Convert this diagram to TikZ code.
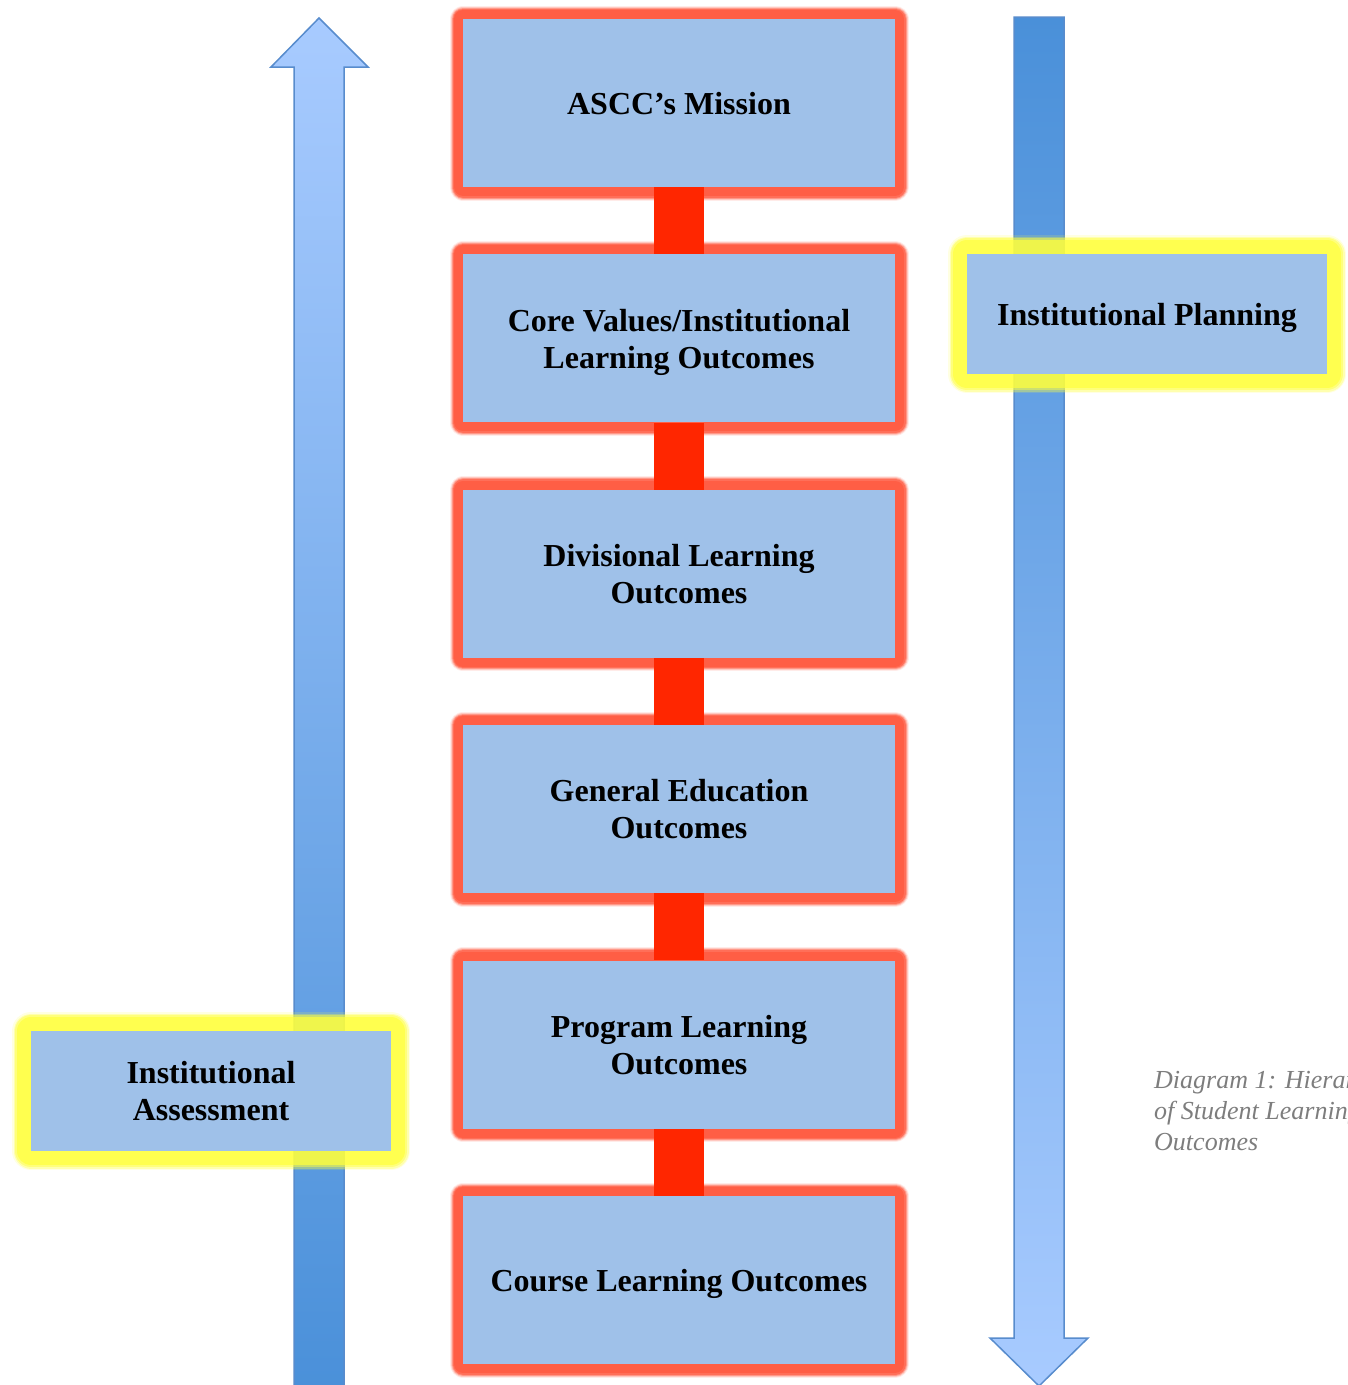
\documentclass[tikz,border=0pt]{standalone}
\usepackage{fontspec}
\setmainfont{Liberation Serif}
\definecolor{boxblue}{RGB}{159,193,233}
\definecolor{glowred}{RGB}{255,94,69}
\definecolor{linkred}{RGB}{255,38,0}
\definecolor{glowyel}{RGB}{255,255,60}
\definecolor{arrlight}{RGB}{168,203,255}
\definecolor{arrdark}{RGB}{74,144,217}
\definecolor{arredge}{RGB}{88,140,205}
\definecolor{capgray}{RGB}{125,125,125}
\tikzset{
  boxtext/.style={font=\fontsize{32}{37}\selectfont\bfseries, align=center, text=black, text depth=0pt},
  cbox/.style={boxtext, fill=boxblue, minimum width=432pt, minimum height=168pt, inner sep=0pt,
    preaction={draw=glowred, draw opacity=0.12, line width=27pt, line join=round},
    preaction={draw=glowred, draw opacity=0.25, line width=25pt, line join=round},
    preaction={draw=glowred, draw opacity=0.45, line width=23pt, line join=round},
    preaction={draw=glowred, draw opacity=0.7, line width=21pt, line join=round},
    preaction={draw=glowred, line width=18pt, line join=round}},
  sbox/.style={boxtext, fill=boxblue, minimum width=360pt, minimum height=120pt, inner sep=0pt,
    preaction={draw=glowyel, draw opacity=0.15, line width=38pt, line join=round},
    preaction={draw=glowyel, draw opacity=0.3, line width=35pt, line join=round},
    preaction={draw=glowyel, draw opacity=0.45, line width=32pt, line join=round},
    preaction={draw=glowyel, draw opacity=0.7, line width=28pt, line join=round}},
  link/.style={draw=linkred, line width=50pt, line cap=butt},
  bigarrow/.style={draw=arredge, line width=1.5pt, line join=miter},
  captext/.style={font=\fontsize{26}{31}\selectfont\itshape, text=capgray, anchor=base west, inner sep=0pt}
}
\begin{document}
\begin{tikzpicture}[x=1pt,y=-1pt]
\useasboundingbox (0,0) rectangle (1348,1385);
\begin{scope}
\clip (0,0) rectangle (1348,1385);
% left upward arrow
\shadedraw[bigarrow, top color=arrlight, bottom color=arrdark]
  (294,1392) -- (294,67) -- (271,67) -- (319,18) -- (368,67) -- (344,67) -- (344,1392) -- cycle;
% right downward arrow
\shadedraw[bigarrow, top color=arrdark, bottom color=arrlight]
  (1014,17) -- (1014,1338) -- (990,1338) -- (1039,1386) -- (1088,1338) -- (1064,1338) -- (1064,17) -- cycle;
% caption
\node[captext] (cap1) at (1154,1088) {Diagram 1: Hierarchy};
\node[captext] (cap2) at (1154,1119) {of Student Learning};
\node[captext] (cap3) at (1154,1150) {Outcomes};
% side boxes
\node[sbox] (plan) at (1147,314) {Institutional Planning};
\node[sbox] (assess) at (211,1091) {Institutional\\Assessment};
% central boxes
\node[cbox] (m1) at (679,103) {ASCC’s Mission};
\node[cbox] (m2) at (679,338.4) {Core Values/Institutional\\Learning Outcomes};
\node[cbox] (m3) at (679,573.8) {Divisional Learning\\Outcomes};
\node[cbox] (m4) at (679,809.2) {General Education\\Outcomes};
\node[cbox] (m5) at (679,1044.6) {Program Learning\\Outcomes};
\node[cbox] (m6) at (679,1280) {Course Learning Outcomes};
\draw[link] (m1.south) -- (m2.north);
\draw[link] (m2.south) -- (m3.north);
\draw[link] (m3.south) -- (m4.north);
\draw[link] (m4.south) -- (m5.north);
\draw[link] (m5.south) -- (m6.north);
\end{scope}
\end{tikzpicture}
\end{document}
